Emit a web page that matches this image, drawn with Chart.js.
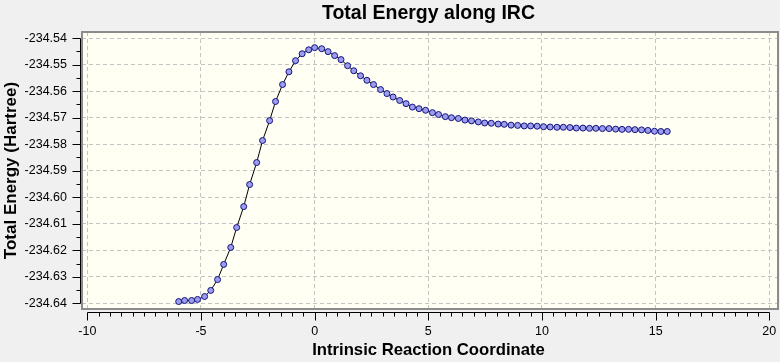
<!DOCTYPE html>
<html>
<head>
<meta charset="utf-8">
<script src="https://cdn.jsdelivr.net/npm/chart.js@4"></script>
<style>
  html, body { margin: 0; padding: 0; background: #f0f0f0; }
  #irc { display: block; }
</style>
</head>
<body>
<canvas id="irc" width="780" height="362"></canvas>
<script>
// IRC energy profile

const reactionCoord = [
    -5.98, -5.72, -5.41, -5.15, -4.84, -4.57, -4.27, -4.00, -3.69, -3.43,
    -3.12, -2.86, -2.55, -2.29, -1.98, -1.72, -1.41, -1.13, -0.84, -0.55,
    -0.26, 0.00, 0.31, 0.59, 0.88, 1.16, 1.45, 1.72, 2.02, 2.30,
    2.59, 2.90, 3.18, 3.45, 3.74, 4.02, 4.30, 4.59, 4.88, 5.18,
    5.45, 5.75, 6.02, 6.32, 6.61, 6.90, 7.20, 7.48, 7.77, 8.07,
    8.34, 8.64, 8.93, 9.22, 9.50, 9.79, 10.07, 10.36, 10.66, 10.94,
    11.23, 11.51, 11.80, 12.09, 12.37, 12.66, 12.95, 13.24, 13.52, 13.81,
    14.09, 14.38, 14.66, 14.95, 15.23, 15.51
];

const totalEnergy = [
    -234.6393, -234.6389, -234.6389, -234.6385, -234.6374, -234.6351, -234.6310, -234.6253, -234.6189, -234.6114,
    -234.6035, -234.5952, -234.5869, -234.5786, -234.5711, -234.5639, -234.5575, -234.5527, -234.5485, -234.5459,
    -234.5444, -234.5436, -234.5440, -234.5451, -234.5466, -234.5481, -234.5504, -234.5523, -234.5542, -234.5559,
    -234.5575, -234.5594, -234.5609, -234.5622, -234.5635, -234.5647, -234.5660, -234.5666, -234.5672, -234.5681,
    -234.5688, -234.5696, -234.5700, -234.5703, -234.5709, -234.5712, -234.5716, -234.5720, -234.5721, -234.5724,
    -234.5725, -234.5728, -234.5729, -234.5731, -234.5731, -234.5732, -234.5734, -234.5735, -234.5736, -234.5736,
    -234.5737, -234.5739, -234.5739, -234.5740, -234.5740, -234.5741, -234.5741, -234.5743, -234.5744, -234.5744,
    -234.5745, -234.5746, -234.5748, -234.5751, -234.5752, -234.5752
];

const xTicks = [-10, -5, 0, 5, 10, 15, 20];
const yTicks = [-234.64, -234.63, -234.62, -234.61, -234.60, -234.59, -234.58, -234.57, -234.56, -234.55, -234.54];

const FONT = "'Liberation Sans', Arial, sans-serif";
const FRAME_EXTRA_RIGHT = 3;   // chart.js keeps 5px on the right, the frame reaches further

// background, frame, offset axes with major/minor ticks
const framePlugin = {
    id: 'frame',
    beforeDraw(chart) {
        const { ctx, chartArea: a } = chart;
        ctx.save();
        ctx.fillStyle = '#f0f0f0';
        ctx.fillRect(0, 0, chart.width, chart.height);
        ctx.fillStyle = '#fffff4';
        ctx.fillRect(a.left, a.top, a.right + FRAME_EXTRA_RIGHT - a.left, a.bottom - a.top);
        ctx.restore();
    },
    afterDraw(chart) {
        const { ctx, chartArea: a } = chart;
        const xs = chart.scales.x, ys = chart.scales.y;
        ctx.save();
        // finish the dashed rows up to the frame
        ctx.strokeStyle = '#c4c4c4';
        ctx.lineWidth = 1;
        ctx.beginPath();
        yTicks.forEach(v => {
            const py = Math.round(ys.getPixelForValue(v)) + 0.5;
            ctx.moveTo(a.right, py);
            ctx.lineTo(a.right + 2, py);
        });
        ctx.stroke();

        ctx.strokeStyle = '#8c8c8c';
        ctx.lineWidth = 2;
        ctx.strokeRect(a.left, a.top, a.right + FRAME_EXTRA_RIGHT - a.left, a.bottom - a.top);

        ctx.strokeStyle = '#000';
        ctx.lineWidth = 1;
        ctx.beginPath();
        // y axis
        const ax = Math.round(a.left - 2) + 0.5;
        const yTop = ys.getPixelForValue(yTicks[yTicks.length - 1]);
        const yBot = ys.getPixelForValue(yTicks[0]);
        ctx.moveTo(ax, Math.round(yTop) + 0.5);
        ctx.lineTo(ax, Math.round(yBot) + 0.5);
        yTicks.forEach((v, i) => {
            const py = Math.round(ys.getPixelForValue(v)) + 0.5;
            ctx.moveTo(ax, py);
            ctx.lineTo(ax - 8, py);
            if (i < yTicks.length - 1) {
                const pm = Math.round(ys.getPixelForValue(v + 0.005)) + 0.5;
                ctx.moveTo(ax, pm);
                ctx.lineTo(ax - 4, pm);
            }
        });
        // x axis
        const ay = Math.round(a.bottom + 3) + 0.5;
        const xL = xs.getPixelForValue(xTicks[0]);
        const xR = xs.getPixelForValue(xTicks[xTicks.length - 1]);
        ctx.moveTo(Math.round(xL) + 0.5, ay);
        ctx.lineTo(Math.round(xR) + 0.5, ay);
        for (let v = xTicks[0]; v <= xTicks[xTicks.length - 1] + 1e-9; v += 0.5) {
            const px = Math.round(xs.getPixelForValue(v)) + 0.5;
            const major = Math.abs(v % 5) < 1e-9;
            ctx.moveTo(px, ay);
            ctx.lineTo(px, ay + (major ? 8 : 4));
        }
        ctx.stroke();
        ctx.restore();
    }
};

const points = reactionCoord.map((x, i) => ({ x: x, y: totalEnergy[i] }));

new Chart(document.getElementById('irc').getContext('2d'), {
    type: 'scatter',
    data: {
        datasets: [{
            data: points,
            showLine: true,
            borderColor: '#000000',
            borderWidth: 1,
            pointRadius: 3,
            pointBackgroundColor: '#9c9cf0',
            pointBorderColor: '#14147a',
            pointBorderWidth: 1
        }]
    },
    options: {
        responsive: false,
        animation: false,
        devicePixelRatio: 1,
        layout: { padding: 0 },
        plugins: {
            legend: { display: false },
            tooltip: { enabled: false },
            title: {
                display: true,
                text: 'Total Energy along IRC',
                color: '#000',
                fullSize: false,
                font: { family: FONT, size: 19.5, weight: 'bold' },
                padding: { top: 2.2, bottom: 6.4 }
            }
        },
        scales: {
            x: {
                type: 'linear',
                position: 'bottom',
                min: -10.233,
                max: 20.25,
                afterBuildTicks: s => { s.ticks = xTicks.map(v => ({ value: v })); },
                afterFit: s => { s.height = 53; s.paddingLeft = 0; s.paddingRight = 0; },
                border: { display: false, dash: [4, 3] },
                grid: { color: '#c4c4c4', lineWidth: 1, drawTicks: false },
                ticks: {
                    color: '#000',
                    font: { family: FONT, size: 12.5 },
                    padding: 15,
                    maxRotation: 0,
                    autoSkip: false,
                    callback: v => String(v)
                },
                title: {
                    display: true,
                    text: 'Intrinsic Reaction Coordinate',
                    color: '#000',
                    font: { family: FONT, size: 16.7, weight: 'bold' },
                    padding: { top: 0, bottom: 1.5 }
                }
            },
            y: {
                type: 'linear',
                position: 'left',
                min: -234.6421,
                max: -234.5377,
                afterBuildTicks: s => { s.ticks = yTicks.map(v => ({ value: v })); },
                afterFit: s => { s.width = 82; s.paddingTop = 0; s.paddingBottom = 0; },
                border: { display: false, dash: [4, 3] },
                grid: { color: '#c4c4c4', lineWidth: 1, drawTicks: false },
                ticks: {
                    color: '#000',
                    font: { family: FONT, size: 12.5 },
                    padding: 15,
                    autoSkip: false,
                    callback: v => v.toFixed(2)
                },
                title: {
                    display: true,
                    text: 'Total Energy (Hartree)',
                    color: '#000',
                    font: { family: FONT, size: 17, weight: 'bold' },
                    padding: { top: 1.5, bottom: 0 }
                }
            }
        }
    },
    plugins: [framePlugin]
});
</script>
</body>
</html>
